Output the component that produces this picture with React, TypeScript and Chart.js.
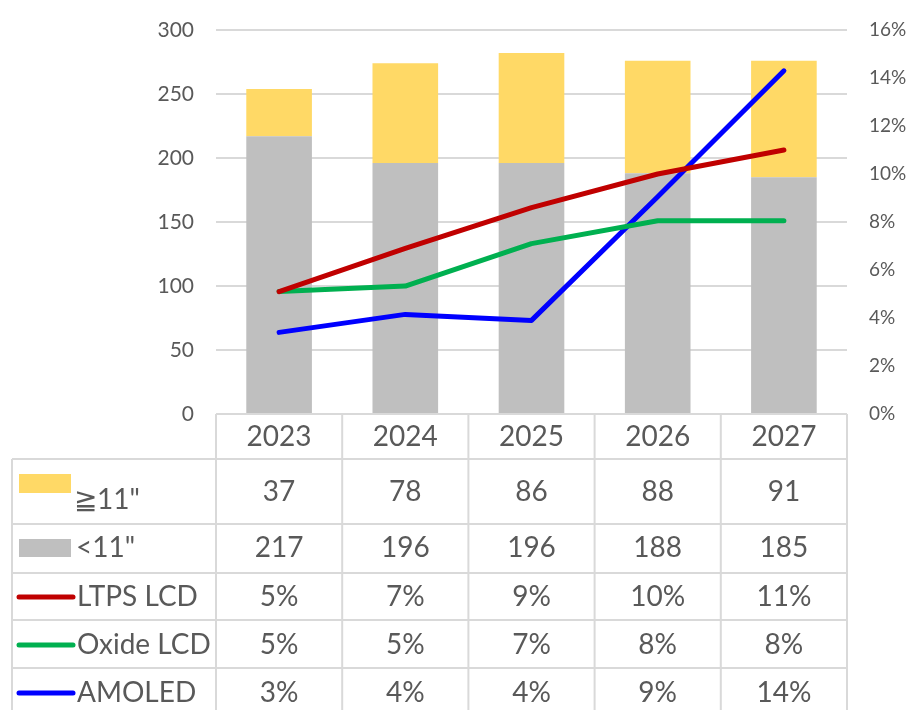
import React, { useEffect, useRef } from "react";
import { Chart, registerables } from "chart.js";

Chart.register(...registerables);

// ---- data ----
const years = ["2023", "2024", "2025", "2026", "2027"];
const largeLabel = "\u226711\"";
const smallLabel = "<11\"";
const largePanels = [37, 78, 86, 88, 91];
const smallPanels = [217, 196, 196, 188, 185];
const ltpsShare = [5.1, 6.9, 8.6, 10.0, 11.0];
const oxideShare = [5.1, 5.33, 7.1, 8.05, 8.05];
const amoledShare = [3.4, 4.15, 3.9, 9.05, 14.3];
const leftMax = 300;
const leftStep = 50;
const rightMax = 16;
const rightStep = 2;

const COLORS = {
  large: "#FFD966",
  small: "#BFBFBF",
  ltps: "#C00000",
  oxide: "#00B050",
  amoled: "#0000FF",
  text: "#595959",
  grid: "#D9D9D9",
};

const FONT = "Lato, 'Open Sans', sans-serif";

const tablePlugin = {
  id: "dataTable",
  afterDraw(chart: any) {
    const ctx = chart.ctx as CanvasRenderingContext2D;
    const xs = chart.scales.x;
    const area = chart.chartArea;
    const n = years.length;
    const step = (area.right - area.left) / n;
    const centers = years.map((_, i) => xs.getPixelForValue(i));
    const bounds = [area.left, ...centers.map((c) => c + step / 2)];
    const tableLeft = 12;
    const rowLines = [area.bottom, 459, 524, 573, 620, 668, 720];
    const rowCenters = [436, 491, 547, 596, 644, 692];

    ctx.save();
    ctx.strokeStyle = COLORS.grid;
    ctx.lineWidth = 2;
    rowLines.forEach((y, i) => {
      ctx.beginPath();
      ctx.moveTo(i === 0 ? area.left : tableLeft, y);
      ctx.lineTo(area.right, y);
      ctx.stroke();
    });
    bounds.forEach((x) => {
      ctx.beginPath();
      ctx.moveTo(x, rowLines[0]);
      ctx.lineTo(x, rowLines[rowLines.length - 1]);
      ctx.stroke();
    });
    ctx.beginPath();
    ctx.moveTo(tableLeft, rowLines[1]);
    ctx.lineTo(tableLeft, rowLines[rowLines.length - 1]);
    ctx.stroke();

    ctx.fillStyle = COLORS.text;
    ctx.textBaseline = "middle";
    ctx.textAlign = "center";
    ctx.font = `28px ${FONT}`;
    const rows: string[][] = [
      years,
      largePanels.map((v) => String(v)),
      smallPanels.map((v) => String(v)),
      ltpsShare.map((v) => Math.round(v) + "%"),
      oxideShare.map((v) => Math.round(v) + "%"),
      amoledShare.map((v) => Math.round(v) + "%"),
    ];
    rows.forEach((row, r) => {
      row.forEach((t, i) => {
        ctx.fillText(t, centers[i], rowCenters[r] + 1);
      });
    });

    ctx.fillStyle = COLORS.large;
    ctx.fillRect(19, 474, 52, 19);
    ctx.fillStyle = COLORS.small;
    ctx.fillRect(19, 539, 52, 18);
    const lineKeys = [
      [COLORS.ltps, rowCenters[3]],
      [COLORS.oxide, rowCenters[4]],
      [COLORS.amoled, rowCenters[5]],
    ] as [string, number][];
    ctx.lineCap = "round";
    ctx.lineWidth = 5;
    lineKeys.forEach(([c, y]) => {
      ctx.strokeStyle = c;
      ctx.beginPath();
      ctx.moveTo(19, y + 1);
      ctx.lineTo(73, y + 1);
      ctx.stroke();
    });

    ctx.fillStyle = COLORS.text;
    ctx.textAlign = "left";
    ctx.font = `28px ${FONT}`;
    ctx.fillText(largeLabel, 74, 500);
    ctx.fillText(smallLabel, 76, rowCenters[2] + 1);
    ctx.fillText("LTPS LCD", 77, rowCenters[3] + 1);
    ctx.fillText("Oxide LCD", 77, rowCenters[4] + 1);
    ctx.fillText("AMOLED", 77, rowCenters[5] + 1);
    ctx.restore();
  },
};

export default function App() {
  const ref = useRef<HTMLCanvasElement | null>(null);
  useEffect(() => {
    if (!ref.current) return;
    const lineDs = (label: string, data: number[], color: string) => ({
      type: "line" as const,
      label,
      data,
      borderColor: color,
      backgroundColor: color,
      borderWidth: 5,
      pointRadius: 0,
      tension: 0,
      borderCapStyle: "round" as const,
      borderJoinStyle: "round" as const,
      yAxisID: "y1",
      order: 1,
    });
    const chart = new Chart(ref.current, {
      type: "bar",
      data: {
        labels: years,
        datasets: [
          {
            type: "bar",
            label: smallLabel,
            data: smallPanels,
            backgroundColor: COLORS.small,
            yAxisID: "y",
            stack: "s",
            order: 2,
            barPercentage: 0.52,
            categoryPercentage: 1,
          },
          {
            type: "bar",
            label: largeLabel,
            data: largePanels,
            backgroundColor: COLORS.large,
            yAxisID: "y",
            stack: "s",
            order: 2,
            barPercentage: 0.52,
            categoryPercentage: 1,
          },
          lineDs("LTPS LCD", ltpsShare, COLORS.ltps),
          lineDs("Oxide LCD", oxideShare, COLORS.oxide),
          lineDs("AMOLED", amoledShare, COLORS.amoled),
        ] as any,
      },
      options: {
        animation: false,
        responsive: false,
        devicePixelRatio: 1,
        layout: { padding: { top: 30, bottom: 296, left: 0, right: 0 } },
        plugins: { legend: { display: false }, tooltip: { enabled: false } },
        scales: {
          x: { display: false, stacked: true, offset: true },
          y: {
            position: "left",
            stacked: true,
            min: 0,
            max: leftMax,
            ticks: {
              stepSize: leftStep,
              color: COLORS.text,
              font: { family: FONT, size: 21 },
              padding: 22,
            },
            grid: { color: COLORS.grid, lineWidth: 2, drawTicks: false },
            border: { display: false },
            afterFit: (s: any) => {
              s.width = 216;
              s.paddingTop = 0;
              s.paddingBottom = 0;
            },
          },
          y1: {
            position: "right",
            min: 0,
            max: rightMax,
            ticks: {
              stepSize: rightStep,
              color: COLORS.text,
              font: { family: FONT, size: 19 },
              padding: 22,
              callback: (v: any) => v + "%",
            },
            grid: { display: false, drawTicks: false },
            border: { display: false },
            afterFit: (s: any) => {
              s.width = 64;
              s.paddingTop = 0;
              s.paddingBottom = 0;
            },
          },
        },
      } as any,
      plugins: [tablePlugin],
    });
    return () => chart.destroy();
  }, []);
  return (
    <div style={{ position: "fixed", left: 0, top: 0, width: 911, height: 710, background: "#fff" }}>
      <canvas ref={ref} width={911} height={710} style={{ width: 911, height: 710 }} />
    </div>
  );
}
